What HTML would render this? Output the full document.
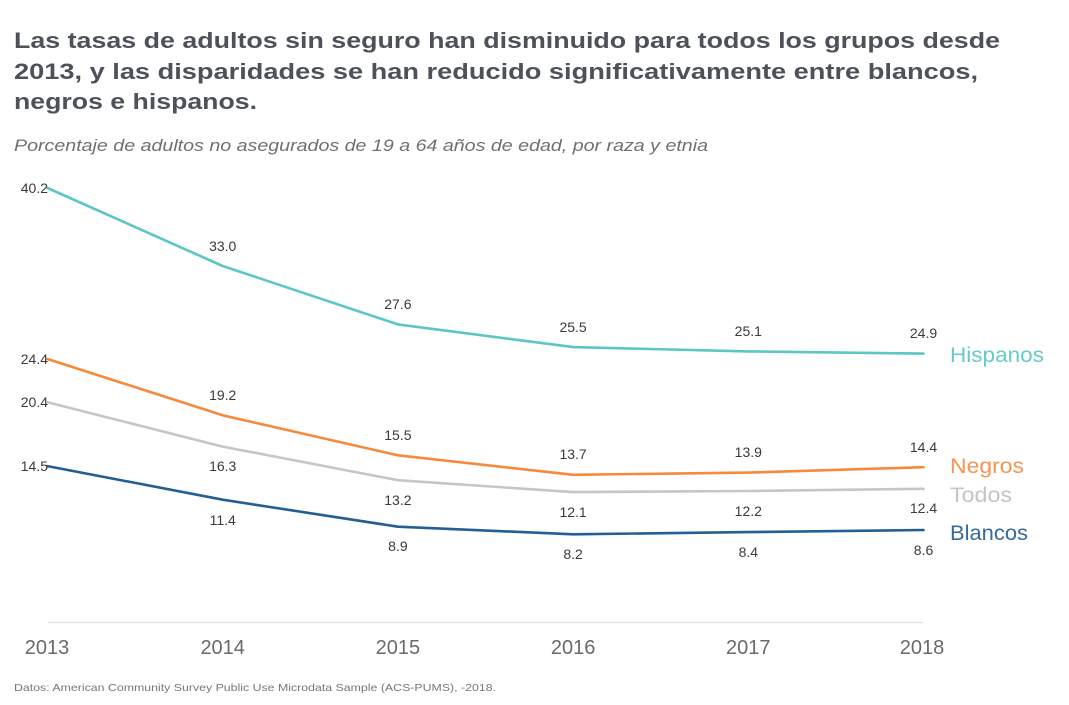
<!DOCTYPE html>
<html><head><meta charset="utf-8"><style>
html,body{margin:0;padding:0;background:#fff;}
svg{display:block;}
text{font-family:"Liberation Sans",Arial,sans-serif;}
</style></head><body>
<svg width="1069" height="705" viewBox="0 0 1069 705" xmlns="http://www.w3.org/2000/svg">
<rect width="1069" height="705" fill="#fff"/>
<g font-weight="bold" font-size="22" fill="#4d525a">
<text x="14" y="48" textLength="986" lengthAdjust="spacingAndGlyphs">Las tasas de adultos sin seguro han disminuido para todos los grupos desde</text>
<text x="14" y="79" textLength="964" lengthAdjust="spacingAndGlyphs">2013, y las disparidades se han reducido significativamente entre blancos,</text>
<text x="14" y="109" textLength="243" lengthAdjust="spacingAndGlyphs">negros e hispanos.</text>
</g>
<text x="14" y="151" font-size="16.5" font-style="italic" fill="#707070" textLength="694" lengthAdjust="spacingAndGlyphs">Porcentaje de adultos no asegurados de 19 a 64 años de edad, por raza y etnia</text>

<line x1="48" y1="622.5" x2="923" y2="622.5" stroke="#e2e4e6" stroke-width="1.5"/>

<g fill="none" stroke-width="2.6" stroke-linejoin="round" stroke-linecap="round">
<polyline stroke="#5cc6c4" points="47.5,188.0 222.7,266.0 397.9,324.4 573.1,347.1 748.3,351.4 923.5,353.6"/>
<polyline stroke="#c6c6c9" points="47.5,402.3 222.7,446.6 397.9,480.2 573.1,492.1 748.3,491.0 923.5,488.8"/>
<polyline stroke="#f58a3c" points="47.5,359.0 222.7,415.3 397.9,455.3 573.1,474.8 748.3,472.6 923.5,467.2"/>
<polyline stroke="#245f93" points="47.5,466.1 222.7,499.7 397.9,526.7 573.1,534.3 748.3,532.1 923.5,530.0"/>
</g>

<g font-size="14" fill="#3a3a3a">
<g text-anchor="end">
<text x="48" y="193">40.2</text>
<text x="48" y="364">24.4</text>
<text x="48" y="407">20.4</text>
<text x="48" y="471">14.5</text>
</g>
<g text-anchor="middle">
<text x="222.7" y="251">33.0</text>
<text x="397.9" y="309">27.6</text>
<text x="573.1" y="332">25.5</text>
<text x="748.3" y="336">25.1</text>
<text x="923.5" y="338">24.9</text>

<text x="222.7" y="400">19.2</text>
<text x="397.9" y="440">15.5</text>
<text x="573.1" y="459">13.7</text>
<text x="748.3" y="457">13.9</text>
<text x="923.5" y="452">14.4</text>

<text x="222.7" y="471">16.3</text>
<text x="397.9" y="505">13.2</text>
<text x="573.1" y="517">12.1</text>
<text x="748.3" y="516">12.2</text>
<text x="923.5" y="513">12.4</text>

<text x="222.7" y="525">11.4</text>
<text x="397.9" y="551">8.9</text>
<text x="573.1" y="559">8.2</text>
<text x="748.3" y="557">8.4</text>
<text x="923.5" y="555">8.6</text>
</g>
</g>

<g font-size="21">
<text x="950" y="362" fill="#66cbc9" textLength="94" lengthAdjust="spacingAndGlyphs">Hispanos</text>
<text x="950" y="473" fill="#f7944f" textLength="74" lengthAdjust="spacingAndGlyphs">Negros</text>
<text x="950" y="502" fill="#c4c4c6" textLength="62" lengthAdjust="spacingAndGlyphs">Todos</text>
<text x="950" y="540" fill="#356a9b" textLength="78" lengthAdjust="spacingAndGlyphs">Blancos</text>
</g>

<g font-size="20" fill="#6a6a6a" text-anchor="middle">
<text x="47" y="654">2013</text>
<text x="222.7" y="654">2014</text>
<text x="397.9" y="654">2015</text>
<text x="573.1" y="654">2016</text>
<text x="748.3" y="654">2017</text>
<text x="922" y="654">2018</text>
</g>

<text x="14" y="691" font-size="10.5" fill="#777" textLength="482" lengthAdjust="spacingAndGlyphs">Datos: American Community Survey Public Use Microdata Sample (ACS-PUMS), -2018.</text>
</svg>
</body></html>
